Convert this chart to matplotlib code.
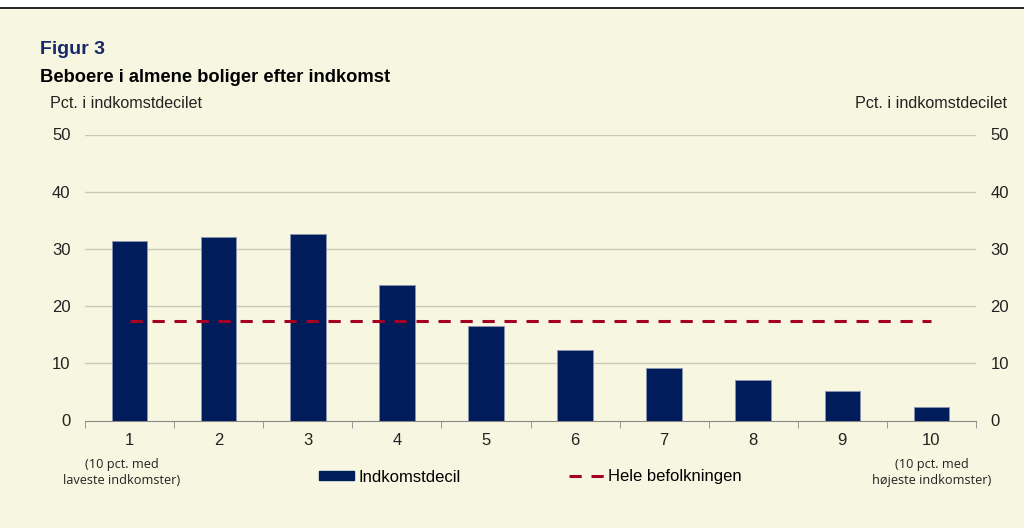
import numpy as np
import matplotlib
matplotlib.use("Agg")
import matplotlib.pyplot as plt
from matplotlib.patches import Patch
from matplotlib.lines import Line2D

plt.rcParams["font.family"] = ["Liberation Sans", "DejaVu Sans"]

DECILES = ["1", "2", "3", "4", "5", "6", "7", "8", "9", "10"]
SHARE = [31.4, 32.0, 32.6, 23.7, 16.6, 12.3, 9.2, 7.0, 5.1, 2.3]
TOTAL = 17.4
YTICKS = [0, 10, 20, 30, 40, 50]

BG = "#F7F7E1"
NAVY = "#001C5A"
RED = "#A50021"

fig = plt.figure(figsize=(10.24, 5.28), dpi=100, facecolor=BG)
# white strip + black rule at top
fig.patches.append(plt.Rectangle((0, 1 - 8 / 528), 1, 8 / 528,
                                 transform=fig.transFigure, color="white",
                                 zorder=0))
fig.add_artist(Line2D([0, 1], [1 - 8 / 528] * 2, color="black", lw=1.2,
                      transform=fig.transFigure))

ax = fig.add_axes([85 / 1024, 1 - 420.5 / 528, 891 / 1024, 286 / 528])
ax.set_facecolor(BG)
x = np.arange(len(DECILES))
ax.bar(x, SHARE, width=0.4, color=NAVY, edgecolor="#8a95b0", linewidth=0.6,
       zorder=3)
ax.plot(x, [TOTAL] * len(x), color=RED, lw=2.2, ls=(0, (4, 3.2)), zorder=4)

ax.set_xlim(-0.5, len(DECILES) - 0.5)
ax.set_ylim(0, 50)
ax.set_yticks(YTICKS)
for yv in YTICKS[1:]:
    ax.axhline(yv, color="#c8c8b8", lw=1, zorder=1)
for s in ["top", "left", "right"]:
    ax.spines[s].set_visible(False)
ax.spines["bottom"].set_color("#888888")
ax.tick_params(axis="y", length=0, labelsize=12, pad=10.5, colors="#222222",
               labelright=True)
ax.set_xticks(x)
ax.set_xticklabels(DECILES, fontsize=12, color="#222222")
ax.set_xticks(np.arange(-0.5, len(DECILES)), minor=True)
ax.tick_params(axis="x", which="major", length=0, pad=9)
ax.tick_params(axis="x", which="minor", length=5, color="#888888")

# extra text under first and last decile
sub = ["Open Sans", "DejaVu Sans"]
ax.text(-0.09, -0.13, "(10 pct. med\nlaveste indkomster)",
        transform=ax.get_xaxis_transform(), ha="center", va="top",
        fontsize=9.2, family=sub, color="#222222", linespacing=1.35)
ax.text(9, -0.13, "(10 pct. med\nhøjeste indkomster)",
        transform=ax.get_xaxis_transform(), ha="center", va="top",
        fontsize=9.2, family=sub, color="#222222", linespacing=1.35)

fig.text(40 / 1024, 1 - 50 / 528, "Figur 3", fontsize=14, fontweight="bold",
         color="#14286A", va="center")
fig.text(40 / 1024, 1 - 78 / 528, "Beboere i almene boliger efter indkomst",
         fontsize=13.2, fontweight="bold", color="black", va="center")
fig.text(50 / 1024, 1 - 103 / 528, "Pct. i indkomstdecilet", fontsize=11.6,
         color="#222222", va="center")
fig.text(1007 / 1024, 1 - 103 / 528, "Pct. i indkomstdecilet", fontsize=11.6,
         color="#222222", va="center", ha="right")

handles = [Patch(facecolor=NAVY, edgecolor=NAVY),
           Line2D([], [], color=RED, lw=2.2, ls=(0, (4, 3.2)))]
fig.legend(handles, ["Indkomstdecil", "Hele befolkningen"],
           loc="center", bbox_to_anchor=(0.518, 1 - 477 / 528), ncol=2,
           frameon=False, fontsize=12, handlelength=2.1, handleheight=0.5,
           columnspacing=6.5, handletextpad=0.25)

fig.savefig("out.png", dpi=100, facecolor=BG)
